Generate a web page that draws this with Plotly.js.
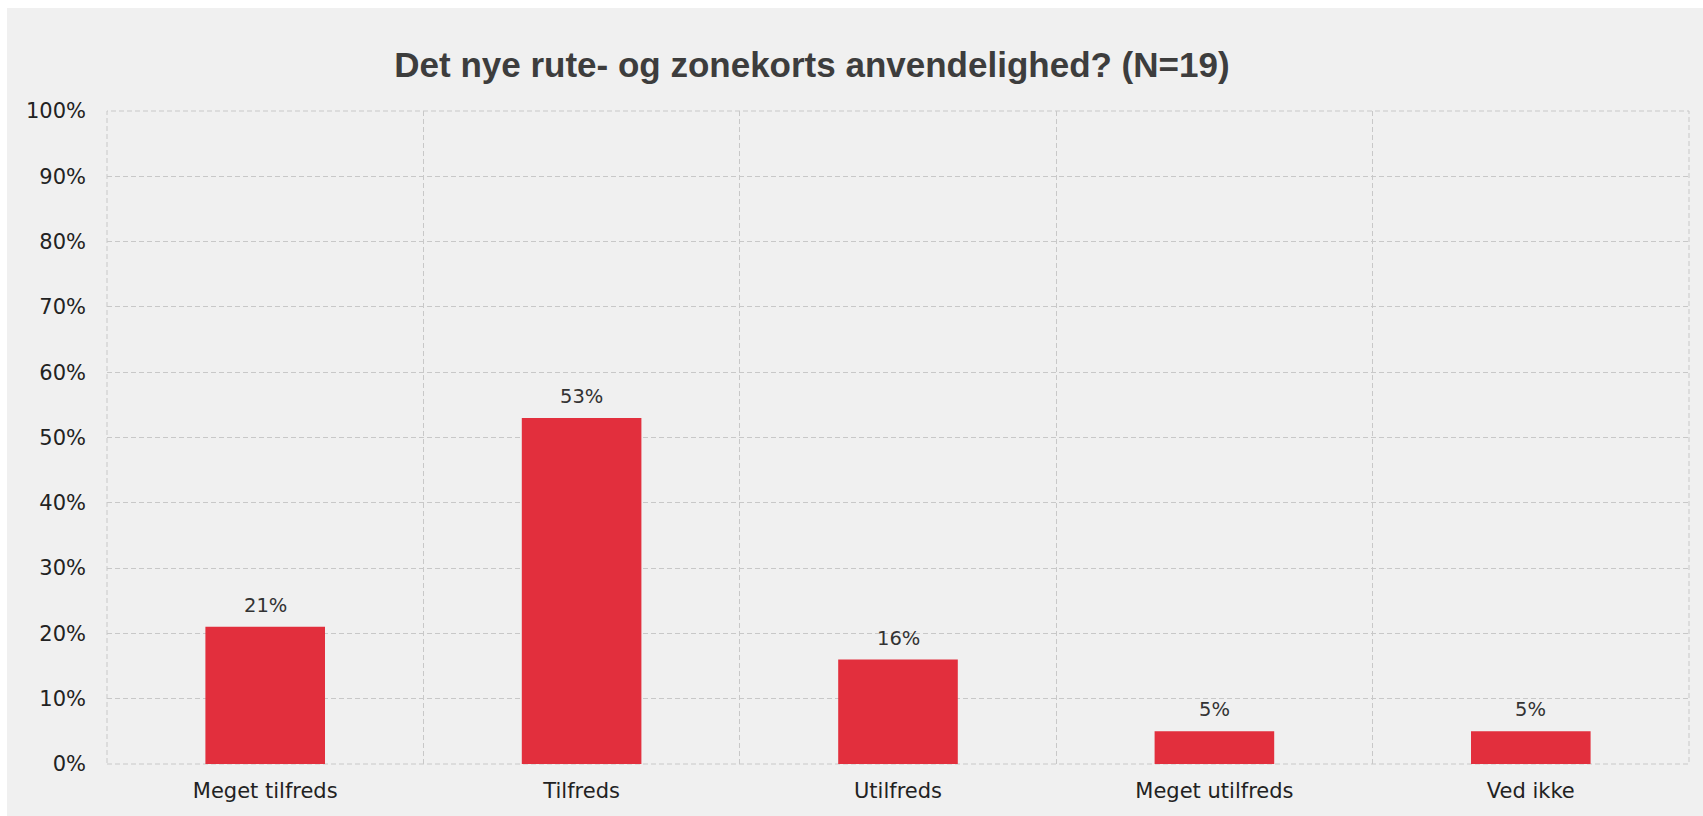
<!DOCTYPE html>
<html>
<head>
<meta charset="utf-8">
<script src="https://cdn.plot.ly/plotly-3.0.1.min.js"></script>
<style>
html,body{margin:0;padding:0;background:#ffffff;}
#chart{position:absolute;left:7px;top:8px;width:1696px;height:808px;}
</style>
</head>
<body>
<div id="chart"></div>
<script>
const categories = ["Meget tilfreds", "Tilfreds", "Utilfreds", "Meget utilfreds", "Ved ikke"];
const values = [21, 53, 16, 5, 5];
const valueLabels = ["21%", "53%", "16%", "5%", "5%"];
const chartTitle = "Det nye rute- og zonekorts anvendelighed? (N=19)";

const trace = {
  type: "bar",
  x: categories,
  y: values,
  width: 0.378,
  marker: {color: "#e22f3d"},
  hoverinfo: "skip"
};

const annotations = categories.map((c, i) => ({
  x: c, y: values[i], xref: "x", yref: "y",
  text: valueLabels[i], showarrow: false,
  yanchor: "bottom", yshift: 8,
  font: {family: "DejaVu Sans, Verdana, sans-serif", size: 19.5, color: "#333333"}
}));

const layout = {
  width: 1696, height: 808,
  paper_bgcolor: "#f0f0f0",
  plot_bgcolor: "#f0f0f0",
  margin: {l: 100, r: 14, t: 103, b: 52, pad: 0},
  showlegend: false,
  title: {
    text: chartTitle,
    font: {family: "Liberation Sans Narrow, Arial Narrow, sans-serif", size: 35, color: "#3d3d3d", weight: "bold"},
    xref: "paper", x: 0.4456, xanchor: "center",
    yref: "container", y: 0.9295, yanchor: "middle"
  },
  xaxis: {
    type: "category",
    tickson: "boundaries",
    showgrid: true,
    gridcolor: "#c8c8c8",
    griddash: "5px,3px",
    gridwidth: 1,
    ticks: "",
    ticklabelstandoff: 12,
    showline: false,
    zeroline: false,
    tickfont: {family: "DejaVu Sans, Verdana, sans-serif", size: 21, color: "#222222"},
    fixedrange: true
  },
  yaxis: {
    range: [0, 100],
    dtick: 10,
    tick0: 0,
    ticksuffix: "%",
    showgrid: true,
    gridcolor: "#c8c8c8",
    griddash: "5px,3px",
    gridwidth: 1,
    zeroline: false,
    showline: false,
    ticks: "",
    ticklabelstandoff: 20,
    tickfont: {family: "DejaVu Sans, Verdana, sans-serif", size: 21, color: "#222222"},
    fixedrange: true
  },
  shapes: [{
    type: "rect", xref: "paper", yref: "paper",
    x0: 0, x1: 1, y0: 0, y1: 1,
    line: {color: "#c8c8c8", width: 1, dash: "5px,3px"},
    fillcolor: "rgba(0,0,0,0)",
    layer: "below"
  }],
  annotations: annotations,
  bargap: 0.62
};

Plotly.newPlot("chart", [trace], layout, {displayModeBar: false, staticPlot: true});
</script>
</body>
</html>
